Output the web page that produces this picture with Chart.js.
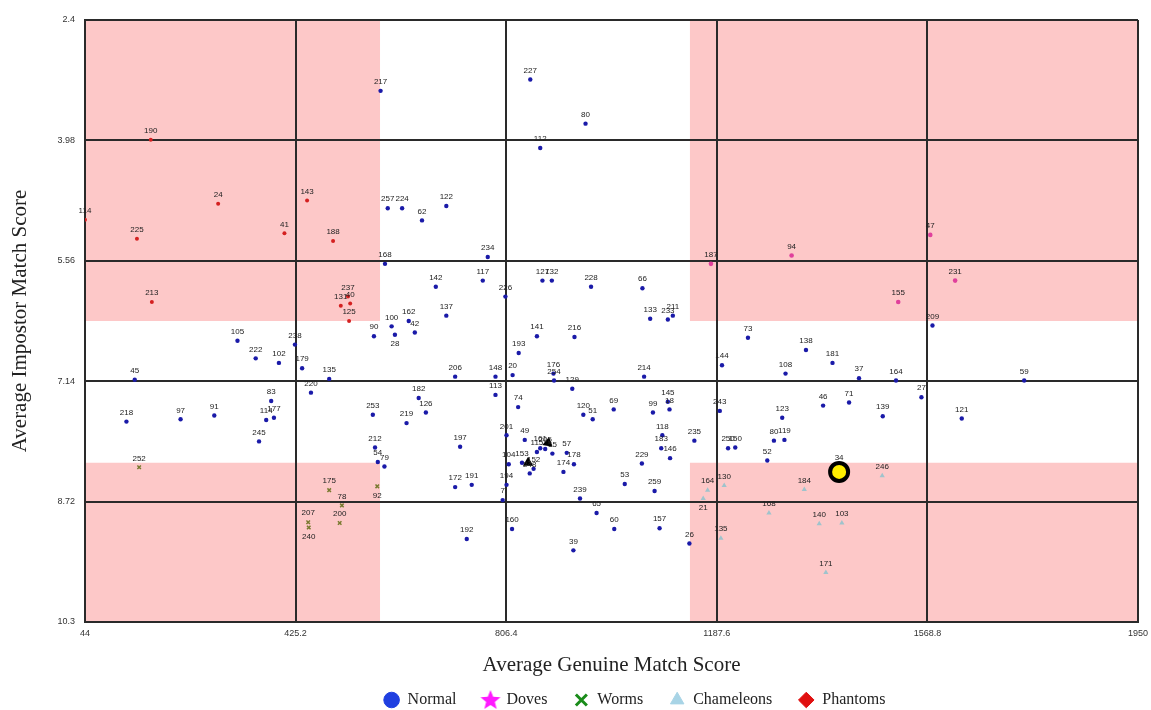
<!DOCTYPE html>
<html>
<head>
<meta charset="utf-8">
<script src="https://cdn.jsdelivr.net/npm/chart.js@4/dist/chart.umd.min.js"></script>
<style>
  body { margin: 0; background: #fff; }
</style>
</head>
<body>
<canvas id="scatter" width="1151" height="710"></canvas>
<script>
// axis ticks
const xTicks = [44, 425.2, 806.4, 1187.6, 1568.8, 1950];
const yTicks = [2.4, 3.98, 5.56, 7.14, 8.72, 10.3];

// shaded zones (genuine score cut-offs, impostor score cut-offs)
const shadeX = [578, 1139];
const shadeY = [6.35, 8.21];

// Normal
const normalIds = ['217','227','80','112','257','224','62','122','168','234','142','117','226','127','132','228',
  '137','162','42','100','90','28','141','216','193','206','148','20','176','254','129','113','74','182','126',
  '253','219','120','51','69','201','105','222','102','238','179','135','220','45','83','218','97','91','114',
  '177','245','66','133','233','211','73','138','181','144','108','37','214','46','71','243','123','145','99',
  '18','118','209','164','59','27','139','121','212','54','79','197','172','191','49','161','57','55','104',
  '115','178','174','152','248','194','7','160','192','239','65','39','60','235','183','146','229','53','259',
  '150','250','80','119','52','157','26','205','153'];
const normalX = [579,850,950,868,592,618,654,698,587,773,679,764,805,872,889,960,
  698,630,641,599,567,605,862,930,829,714,787,818,892,893,926,787,828,648,661,
  565,626,946,963,1001,807,320,353,395,424,437,486,453,134,381,119,217,278,372,
  386,359,1053,1067,1099,1108,1244,1349,1397,1197,1312,1445,1056,1380,1427,1193,1306,1099,1072,
  1102,1089,1578,1512,1744,1558,1488,1631,569,574,586,723,714,744,840,868,916,890,811,
  862,929,910,856,849,807,800,817,735,940,970,928,1002,1147,1087,1103,1052,1021,1075,
  1221,1208,1291,1310,1279,1084,1138,877,835];
const normalY = [3.33,3.18,3.76,4.08,4.87,4.87,5.03,4.84,5.60,5.51,5.90,5.82,6.03,5.82,5.82,5.90,
  6.28,6.35,6.50,6.42,6.55,6.53,6.55,6.56,6.77,7.08,7.08,7.06,7.04,7.13,7.24,7.32,7.48,7.36,7.55,
  7.58,7.69,7.58,7.64,7.51,7.85,6.61,6.84,6.90,6.66,6.97,7.11,7.29,7.12,7.40,7.67,7.64,7.59,7.65,
  7.62,7.93,5.92,6.32,6.33,6.28,6.57,6.73,6.90,6.93,7.04,7.10,7.08,7.46,7.42,7.53,7.62,7.41,7.55,
  7.51,7.85,6.41,7.13,7.13,7.35,7.60,7.63,8.01,8.20,8.26,8.00,8.53,8.50,7.91,8.02,8.08,8.09,8.23,
  8.07,8.23,8.33,8.29,8.35,8.50,8.70,9.08,9.21,8.68,8.87,9.36,9.08,7.92,8.02,8.15,8.22,8.49,8.58,
  8.01,8.02,7.92,7.91,8.18,9.07,9.27,8.03,8.21];

// Doves
const doveIds = ['187','94','47','231','155'];
const doveX = [1177,1323,1574,1619,1516];
const doveY = [5.60,5.49,5.22,5.82,6.10];

// Worms
const wormIds = ['252','175','78','200','207','240','92'];
const wormX = [142,486,509,505,448,449,573];
const wormY = [8.27,8.57,8.77,9.00,8.99,9.06,8.52];

// Chameleons
const chamIds = ['164','21','130','184','168','140','103','135','171','246'];
const chamX = [1171,1163,1201,1346,1282,1373,1414,1195,1385,1487];
const chamY = [8.57,8.68,8.51,8.56,8.87,9.01,9.00,9.20,9.65,8.38];

// Phantoms
const phantomIds = ['190','24','143','114','225','41','188','213','237','40','131','125'];
const phantomX = [163,285,446,44,138,405,493,165,520,524,507,522];
const phantomY = [3.97,4.81,4.77,5.02,5.27,5.20,5.30,6.10,6.03,6.12,6.15,6.35];

// highlighted user and pointer marks
const highlightIds = ['34'];
const highlightX = [1409];
const highlightY = [8.33];
const arrowX = [882, 846];
const arrowY = [7.95, 8.21];
const arrowRot = [-110, 120];

const labelsBelow = ['240','21','28','92'];

const legendNames = ['Normal','Doves','Worms','Chameleons','Phantoms'];
const legendColors = ['#1f3fe0','#ff1aff','#1a8c1a','#a8d4e6','#e01010'];

function pts(xs, ys) { return xs.map((x, i) => ({ x: x, y: ys[i] })); }

// filled five-point star for the Doves legend entry
function starIcon(color) {
  const c = document.createElement('canvas');
  c.width = c.height = 22;
  const g = c.getContext('2d');
  g.fillStyle = color;
  g.beginPath();
  for (let k = 0; k < 10; k++) {
    const r = k % 2 ? 4.6 : 10.5;
    const a = -Math.PI / 2 + k * Math.PI / 5;
    g.lineTo(11 + r * Math.cos(a), 11.5 + r * Math.sin(a));
  }
  g.closePath();
  g.fill();
  return c;
}
const legendShapes = ['circle', starIcon('#ff1aff'), 'crossRot', 'triangle', 'rectRot'];

const shading = {
  id: 'shading',
  beforeDraw(chart) {
    const { ctx, chartArea: a, scales: { x, y } } = chart;
    const xl = x.getPixelForValue(shadeX[0]), xr = x.getPixelForValue(shadeX[1]);
    const yt = y.getPixelForValue(shadeY[0]), yb = y.getPixelForValue(shadeY[1]);
    ctx.save();
    ctx.fillStyle = '#fdc8c8';
    ctx.fillRect(a.left, a.top, xl - a.left, yt - a.top);
    ctx.fillRect(xr, a.top, a.right - xr, yt - a.top);
    ctx.fillRect(a.left, yb, xl - a.left, a.bottom - yb);
    ctx.fillRect(xr, yb, a.right - xr, a.bottom - yb);
    ctx.restore();
  }
};

// the legend sits a bit right of the canvas centre in the original
const legendShift = {
  id: 'legendShift',
  afterLayout(chart) {
    chart.legend.left += 59;
    chart.legend.right += 59;
  }
};

const pointLabels = {
  id: 'pointLabels',
  afterDatasetsDraw(chart) {
    const ctx = chart.ctx;
    ctx.save();
    ctx.font = '8px "Liberation Sans", Arial, sans-serif';
    ctx.fillStyle = '#222';
    ctx.textAlign = 'center';
    ctx.textBaseline = 'middle';
    chart.data.datasets.forEach((ds, i) => {
      if (!ds.ids) return;
      chart.getDatasetMeta(i).data.forEach((el, j) => {
        const id = ds.ids[j];
        const dy = labelsBelow.includes(id) ? 9 : (ds.label === 'Highlight' ? -14 : -9);
        ctx.fillText(id, el.x, el.y + dy);
      });
    });
    ctx.restore();
  }
};

new Chart(document.getElementById('scatter'), {
  type: 'scatter',
  data: {
    datasets: [
      { label: 'Normal', ids: normalIds, data: pts(normalX, normalY), pointStyle: 'circle',
        pointRadius: 2.2, backgroundColor: '#1a1aa8', borderColor: '#1a1aa8', borderWidth: 0 },
      { label: 'Doves', ids: doveIds, data: pts(doveX, doveY), pointStyle: 'circle',
        pointRadius: 2.3, backgroundColor: '#e0409c', borderColor: '#e0409c', borderWidth: 0 },
      { label: 'Worms', ids: wormIds, data: pts(wormX, wormY), pointStyle: 'crossRot',
        pointRadius: 2.5, backgroundColor: '#7a7a30', borderColor: '#7a7a30', borderWidth: 1.5 },
      { label: 'Chameleons', ids: chamIds, data: pts(chamX, chamY), pointStyle: 'triangle',
        pointRadius: 3, backgroundColor: '#9fc3cc', borderColor: '#9fc3cc', borderWidth: 0 },
      { label: 'Phantoms', ids: phantomIds, data: pts(phantomX, phantomY), pointStyle: 'circle',
        pointRadius: 2, backgroundColor: '#d42020', borderColor: '#d42020', borderWidth: 0 },
      { label: 'Arrows', data: pts(arrowX, arrowY), pointStyle: 'triangle', rotation: arrowRot,
        pointRadius: 6, backgroundColor: '#000', borderColor: '#000', borderWidth: 0 },
      { label: 'Highlight', ids: highlightIds, data: pts(highlightX, highlightY), pointStyle: 'circle',
        pointRadius: 9, backgroundColor: '#ffee00', borderColor: '#000', borderWidth: 4 }
    ]
  },
  options: {
    responsive: false,
    animation: false,
    devicePixelRatio: 1,
    layout: { padding: { top: 20, right: 0, bottom: -8, left: 0 } },
    scales: {
      x: {
        type: 'linear', min: 44, max: 1950,
        afterBuildTicks: s => { s.ticks = xTicks.map(v => ({ value: v })); },
        afterFit: s => { s.height = 44; s.paddingRight = 13; },
        ticks: { callback: v => String(v), color: '#333', padding: 6, maxRotation: 0,
          font: { family: '"Liberation Sans", Arial, sans-serif', size: 9 } },
        grid: { color: '#2a2a2a', lineWidth: 2, drawTicks: false },
        border: { display: true, color: '#2a2a2a', width: 2 },
        title: { display: true, text: 'Average Genuine Match Score', color: '#222',
          padding: { top: 0, bottom: -12 },
          font: { family: '"Liberation Serif", "Times New Roman", serif', size: 21 } }
      },
      y: {
        type: 'linear', min: 2.4, max: 10.3, reverse: true,
        afterBuildTicks: s => { s.ticks = yTicks.map(v => ({ value: v })); },
        afterFit: s => { s.width = 85; },
        ticks: { callback: v => String(v), color: '#333', padding: 10,
          font: { family: '"Liberation Sans", Arial, sans-serif', size: 9 } },
        grid: { color: '#2a2a2a', lineWidth: 2, drawTicks: false },
        border: { display: true, color: '#2a2a2a', width: 2 },
        title: { display: true, text: 'Average Impostor Match Score', color: '#222',
          padding: { top: 8, bottom: 0 },
          font: { family: '"Liberation Serif", "Times New Roman", serif', size: 21 } }
      }
    },
    plugins: {
      tooltip: { enabled: false },
      legend: {
        position: 'bottom',
        labels: {
          usePointStyle: true,
          boxHeight: 11,
          padding: 26,
          color: '#222',
          font: { family: '"Liberation Serif", "Times New Roman", serif', size: 16 },
          generateLabels: () => legendNames.map((name, i) => ({
            text: name,
            fillStyle: legendColors[i],
            strokeStyle: legendColors[i],
            lineWidth: i === 2 ? 3 : 1,
            pointStyle: legendShapes[i],
            datasetIndex: i,
            hidden: false,
            fontColor: '#222'
          }))
        }
      }
    }
  },
  plugins: [shading, legendShift, pointLabels]
});
</script>
</body>
</html>
